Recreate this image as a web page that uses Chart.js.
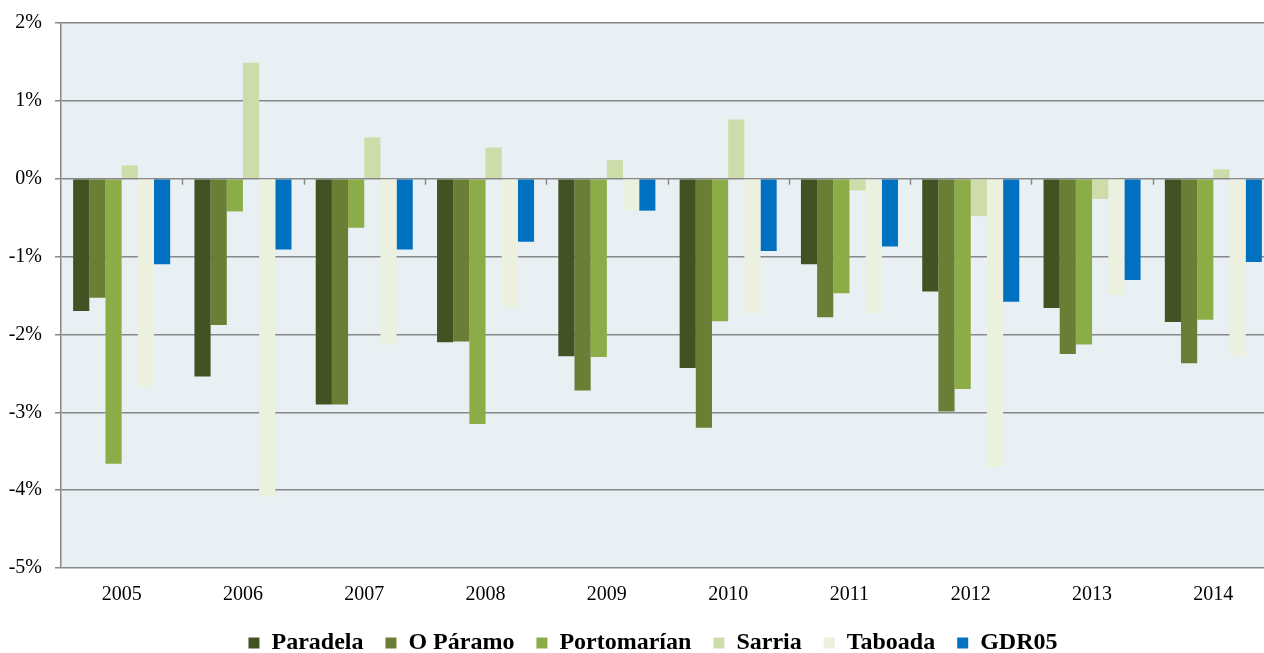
<!DOCTYPE html>
<html>
<head>
<meta charset="utf-8">
<script src="https://cdn.jsdelivr.net/npm/chart.js@4.4.0/dist/chart.umd.min.js"></script>
<style>
  html, body { margin: 0; padding: 0; background: #fff; overflow: hidden; }
  #wrap { width: 1274px; height: 653px; position: relative; }
</style>
</head>
<body>
<div id="wrap"><canvas id="chart"></canvas></div>
<script>
// years on the x axis
const years = ['2005', '2006', '2007', '2008', '2009', '2010', '2011', '2012', '2013', '2014'];

// annual change, in percent
const paradela    = [-1.70, -2.54, -2.90, -2.10, -2.28, -2.43, -1.10, -1.45, -1.66, -1.84];
const oParamo     = [-1.53, -1.88, -2.90, -2.09, -2.72, -3.20, -1.78, -2.99, -2.25, -2.37];
const portomarin  = [-3.66, -0.42, -0.63, -3.15, -2.29, -1.83, -1.47, -2.70, -2.13, -1.81];
const sarria      = [0.17, 1.49, 0.53, 0.40, 0.24, 0.76, -0.15, -0.48, -0.26, 0.12];
const taboada     = [-2.68, -4.08, -2.13, -1.66, -0.40, -1.73, -1.73, -3.70, -1.49, -2.27];
const gdr05       = [-1.10, -0.91, -0.91, -0.81, -0.41, -0.93, -0.87, -1.58, -1.30, -1.07];

const yTicks = [2, 1, 0, -1, -2, -3, -4, -5];

const serif = '"Liberation Serif", "Times New Roman", serif';
const gridGray = '#888888';

// pale blue plot background, the little tick marks under the 0% line,
// and a nudge so the legend sits centred on the visible page
const plotDecor = {
  id: 'plotDecor',
  afterLayout(chart) {
    chart.legend.left += 16;
    chart.legend.right += 16;
  },
  beforeDraw(chart) {
    const { ctx, chartArea: a } = chart;
    ctx.save();
    ctx.fillStyle = '#E8F0F4';
    ctx.fillRect(a.left, a.top, a.right - a.left, a.bottom - a.top);
    ctx.restore();
  },
  beforeDatasetsDraw(chart) {
    const { ctx, scales } = chart;
    const x = scales.x, y = scales.y;
    const y0 = y.getPixelForValue(0);
    ctx.save();
    ctx.strokeStyle = gridGray;
    ctx.lineWidth = 1.5;
    for (let i = 1; i < years.length; i++) {
      const px = Math.round((x.getPixelForValue(i - 1) + x.getPixelForValue(i)) / 2) + 0.5;
      ctx.beginPath();
      ctx.moveTo(px, y0);
      ctx.lineTo(px, y0 + 6);
      ctx.stroke();
    }
    ctx.restore();
  },
};

const ds = (label, data, color) => ({
  label,
  data,
  backgroundColor: color,
  borderWidth: 0,
});

new Chart(document.getElementById('chart'), {
  type: 'bar',
  data: {
    labels: years,
    datasets: [
      ds('Paradela', paradela, '#425223'),
      ds('O Páramo', oParamo, '#6A7F35'),
      ds('Portomarían', portomarin, '#8CAC48'),
      ds('Sarria', sarria, '#CDDCA9'),
      ds('Taboada', taboada, '#EBF0DF'),
      ds('GDR05', gdr05, '#0070C0'),
    ],
  },
  options: {
    responsive: true,
    maintainAspectRatio: false,
    animation: false,
    layout: { padding: { top: 22, right: 0, bottom: 0, left: 0 } },
    datasets: {
      bar: { categoryPercentage: 0.8, barPercentage: 1.0 },
    },
    plugins: {
      legend: {
        position: 'bottom',
        maxHeight: 44,
        labels: {
          color: '#000',
          font: { family: serif, size: 24, weight: 'bold' },
          boxWidth: 11,
          boxHeight: 11,
          padding: 22,
        },
      },
      tooltip: { enabled: false },
    },
    scales: {
      x: {
        grid: { display: false },
        border: { display: false },
        ticks: { color: '#000', font: { family: serif, size: 20 }, padding: 7 },
        afterFit: (s) => { s.height = 41; },
      },
      y: {
        min: -5,
        max: 2,
        afterBuildTicks: (s) => { s.ticks = yTicks.map((v) => ({ value: v })); },
        grid: { color: gridGray, lineWidth: 1.5, tickLength: 6 },
        border: { color: gridGray, width: 1.5 },
        ticks: {
          color: '#000',
          font: { family: serif, size: 20, lineHeight: 1 },
          padding: 13,
          callback: (v) => v + '%',
        },
        afterFit: (s) => { s.width = 61; },
      },
    },
  },
  plugins: [plotDecor],
});
</script>
</body>
</html>
